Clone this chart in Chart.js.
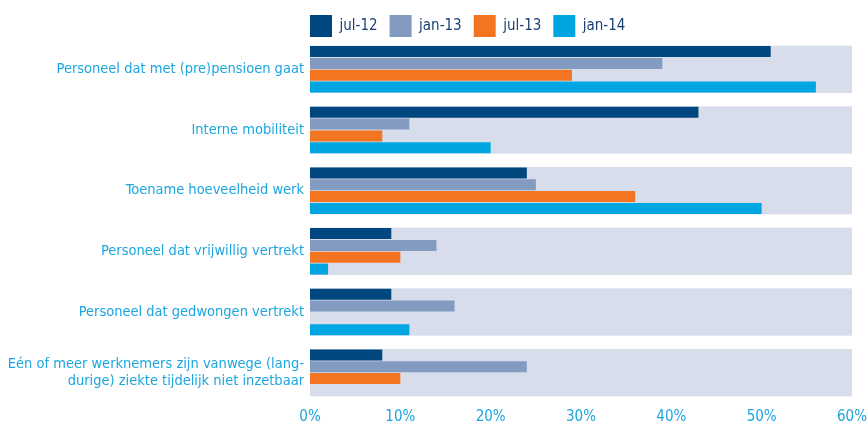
<!DOCTYPE html>
<html>
<head>
<meta charset="utf-8">
<script src="https://cdn.jsdelivr.net/npm/chart.js@4/dist/chart.umd.min.js"></script>
<style>
  html, body { margin: 0; padding: 0; background: #fff; }
  #wrap { width: 868px; height: 424px; }
</style>
</head>
<body>
<div id="wrap"><canvas id="chart" width="868" height="424"></canvas></div>
<script>
var categories = [
    "Personeel dat met (pre)pensioen gaat",
    "Interne mobiliteit",
    "Toename hoeveelheid werk",
    "Personeel dat vrijwillig vertrekt",
    "Personeel dat gedwongen vertrekt",
    ["Eén of meer werknemers zijn vanwege (lang-", "durige) ziekte tijdelijk niet inzetbaar"]
];
var seriesNames = ["jul-12", "jan-13", "jul-13", "jan-14"];
var jul12 = [51, 43, 24, 9, 9, 8];
var jan13 = [39, 11, 25, 14, 16, 24];
var jul13 = [29, 8, 36, 10, 0, 10];
var jan14 = [56, 20, 50, 2, 11, 0];
var xTicks = [0, 10, 20, 30, 40, 50, 60];

var colors = ["#00467f", "#849bc1", "#f47521", "#00a6e2"],
    blue = "#1ca6e0",
    bandColor = "#d7ddea",
    font = "'DejaVu Sans Condensed', sans-serif",
    groupPct = 0.78;

// grey band behind every category group
var bands = {
    id: 'bands',
    beforeDatasetsDraw: function(chart) {
        var ctx = chart.ctx,
            x = chart.scales.x,
            y = chart.scales.y,
            slot = y.height / categories.length,
            half = slot * groupPct / 2;
        ctx.save();
        ctx.fillStyle = bandColor;
        for (var i = 0; i < categories.length; i++) {
            var cy = y.getPixelForValue(i);
            ctx.fillRect(x.getPixelForValue(0), cy - half, x.getPixelForValue(60) - x.getPixelForValue(0), half * 2);
        }
        ctx.restore();
    }
};

// legend starts at the left edge of the plot, a bit lower than its box
var legendShift = {
    id: 'legendShift',
    afterLayout: function(chart) {
        chart.legend.left = chart.chartArea.left - 12;
        chart.legend.top = 3;
    }
};

var data = [jul12, jan13, jul13, jan14];
var datasets = [];
for (var k = 0; k < seriesNames.length; k++) {
    datasets.push({
        label: seriesNames[k],
        data: data[k],
        backgroundColor: colors[k],
        borderWidth: 0,
        categoryPercentage: groupPct,
        barPercentage: 0.93
    });
}

new Chart(document.getElementById('chart').getContext('2d'), {
    type: 'bar',
    data: { labels: categories, datasets: datasets },
    plugins: [bands, legendShift],
    options: {
        indexAxis: 'y',
        responsive: false,
        animation: false,
        layout: { padding: { left: 0, right: 0, top: -5, bottom: 0 } },
        plugins: {
            tooltip: { enabled: false },
            legend: {
                align: 'start',
                labels: {
                    boxWidth: 22,
                    boxHeight: 22,
                    padding: 12,
                    color: "#1a3f73",
                    font: { family: font, size: 15 }
                }
            }
        },
        scales: {
            x: {
                min: 0,
                max: 60,
                grid: { display: false, drawTicks: false },
                border: { display: false },
                afterBuildTicks: function(axis) {
                    axis.ticks = xTicks.map(function(v) { return { value: v }; });
                },
                afterFit: function(axis) {
                    axis.height = 21;
                    axis.paddingRight = 16;
                },
                ticks: {
                    color: blue,
                    padding: 5,
                    font: { family: font, size: 15 },
                    callback: function(v) { return v + '%'; }
                }
            },
            y: {
                grid: { display: false, drawTicks: false },
                border: { display: false },
                afterFit: function(axis) { axis.width = 310; },
                ticks: {
                    color: blue,
                    padding: 6,
                    font: { family: font, size: 14.5 }
                }
            }
        }
    }
});
</script>
</body>
</html>
